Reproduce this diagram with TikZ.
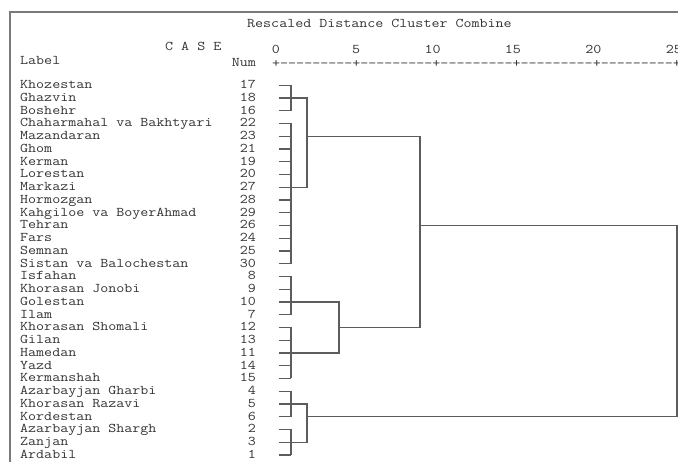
\documentclass[tikz,border=0pt]{standalone}
\usepackage{fontspec}
\newfontfamily\spssfont{Latin Modern Mono}[Ligatures=TeXOff, FakeStretch=1.17]
\usepackage{tikz}
\usetikzlibrary{calc,positioning}
\definecolor{frameg}{gray}{0.48}
\definecolor{lineg}{gray}{0.36}
\definecolor{textg}{gray}{0.2}

\begin{document}
\begin{tikzpicture}[
  x=1pt, y=-1pt,
  every node/.style={inner sep=0pt, text height=7pt, text depth=0pt, text=textg,
    font=\spssfont\fontsize{13.3}{14}\selectfont},
  caselabel/.style={anchor=west},
  casenum/.style={anchor=east},
  link/.style={draw=lineg, line width=1.3pt},
  boxline/.style={draw=frameg, line width=1.6pt}
]
\useasboundingbox (0,0) rectangle (678,462);
\draw[boxline] (10,462) -- (10,12) -- (678,12);

% header
\node[anchor=west] (title) at (247,24) {Rescaled Distance Cluster Combine};
\node[anchor=west] (case) at (165,47.5) {C A S E};
\node[anchor=west] (label) at (20,61) {Label};
\node[casenum] (numhead) at (256,63.5) {Num};
\foreach \v [count=\k from 0] in {0,5,10,15,20,25}
  \node[casenum] (tick\k) at ({280+80.4*\k},50.5) {\v};
\node[anchor=west] (axis) at (272,64.5) {+---------+---------+---------+---------+---------+};

% cases
\foreach \lab/\n [count=\i from 0] in {Khozestan/17, Ghazvin/18, Boshehr/16,
    Chaharmahal va Bakhtyari/22, Mazandaran/23, Ghom/21, Kerman/19, Lorestan/20,
    Markazi/27, Hormozgan/28, Kahgiloe va BoyerAhmad/29, Tehran/26, Fars/24,
    Semnan/25, Sistan va Balochestan/30, Isfahan/8, Khorasan Jonobi/9, Golestan/10,
    Ilam/7, Khorasan Shomali/12, Gilan/13, Hamedan/11, Yazd/14, Kermanshah/15,
    Azarbayjan Gharbi/4, Khorasan Razavi/5, Kordestan/6, Azarbayjan Shargh/2,
    Zanjan/3, Ardabil/1} {
  \node[caselabel] (lab\i) at (20,{85.2+12.75*\i}) {\lab};
  \node[casenum] (num\i) at (256,{85.2+12.75*\i}) {\n};
  \coordinate (leaf\i) at (279,{85.2+12.75*\i});
  \coordinate (j\i) at (291,{85.2+12.75*\i});
  \draw[link] (leaf\i) -- (j\i);
}

% merge levels
\coordinate (d2) at (307,0);
\coordinate (d3) at (339,0);
\coordinate (d4) at (420,0);
\coordinate (d5) at (677,0);

\draw[link] (j0) -- (j2);
\draw[link] (j3) -- (j14);
\draw[link] (j15) -- (j18);
\draw[link] (j19) -- (j23);
\draw[link] (j24) -- (j26);
\draw[link] (j27) -- (j29);

\draw[link] (j1) -- (j1 -| d2) -- (j8 -| d2) -- (j8);
\draw[link] (j17) -- (j17 -| d3) -- (j21 -| d3) -- (j21);
\draw[link] (j25) -- (j25 -| d2) -- (j28 -| d2) -- (j28);
\draw[link] (j4 -| d2) -- (j4 -| d4) -- (j19 -| d4) -- (j19 -| d3);
\draw[link] (j11 -| d4) -- (j11 -| d5) -- (j26 -| d5) -- (j26 -| d2);
\end{tikzpicture}
\end{document}
